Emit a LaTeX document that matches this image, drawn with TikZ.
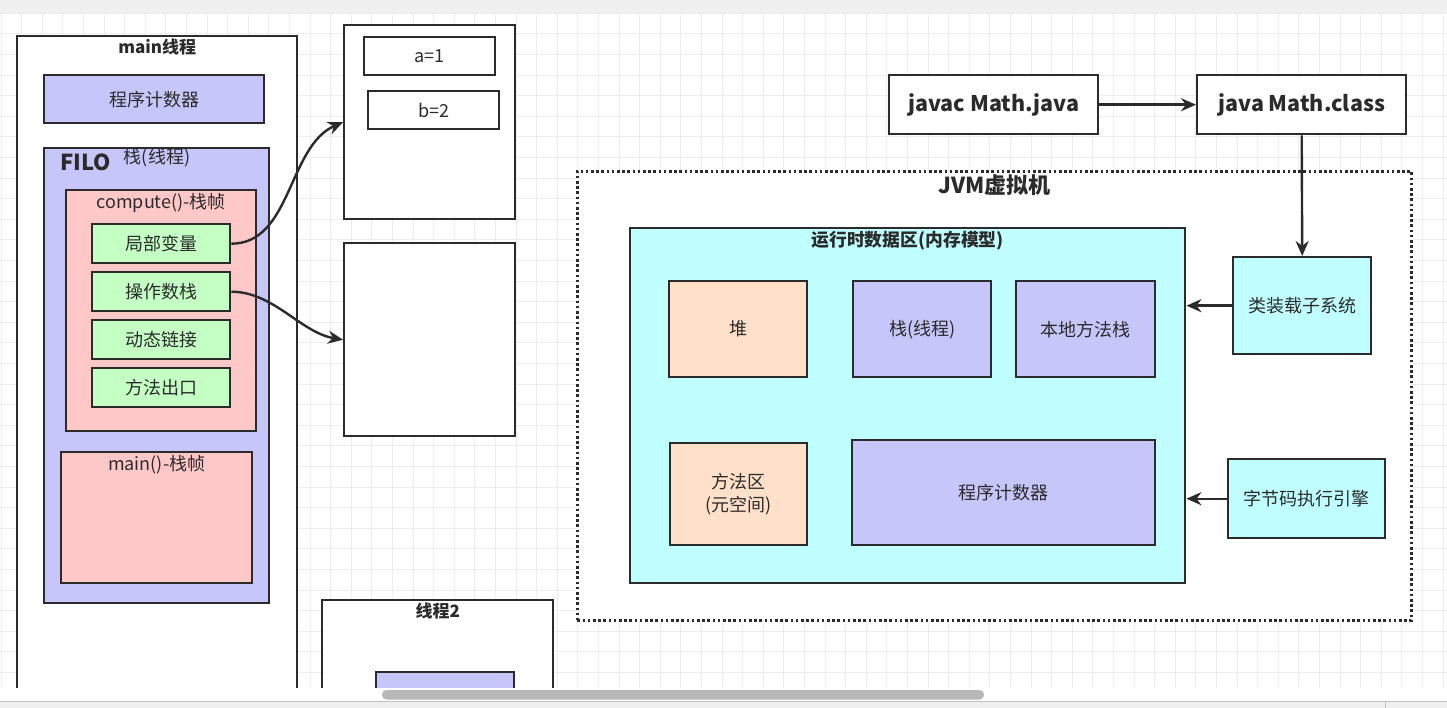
\documentclass[tikz,border=0pt]{standalone}
\usepackage{fontspec}
\setmainfont{Noto Sans CJK SC}
\usetikzlibrary{arrows.meta,positioning}
\definecolor{ink}{HTML}{2B2B2B}
\definecolor{lavender}{HTML}{C6C6FA}
\definecolor{blush}{HTML}{FFC8C8}
\definecolor{mint}{HTML}{C4FFC4}
\definecolor{aqua}{HTML}{C0FFFF}
\definecolor{peach}{HTML}{FFE0C8}
\definecolor{gridline}{HTML}{EDEDED}
\definecolor{chrome}{HTML}{F0F0F0}

\begin{document}
\begin{tikzpicture}[x=1pt,y=-1pt,
 box/.style={draw=ink,line width=2.4pt,fill=white,anchor=north west,inner sep=0pt,
   text=ink,align=center,font=\fontsize{18}{23}\selectfont},
 thread/.style={box,fill=lavender},
 frame/.style={box,fill=blush},
 slot/.style={box,fill=mint,minimum width=138pt,minimum height=39pt},
 shared/.style={box,fill=peach},
 unit/.style={box,fill=aqua},
 title/.style={inner sep=0pt,text=ink,font=\bfseries\fontsize{17}{20}\selectfont},
 caption/.style={inner sep=0pt,text=ink,font=\fontsize{18}{20}\selectfont},
 flow/.style={-{Stealth[length=15pt,width=13pt]},draw=ink,line width=2.4pt}
]
\useasboundingbox (0,0) rectangle (1447,708);
\fill[white] (0,0) rectangle (1447,708);
% canvas grid
\foreach \i in {0,...,70}
 \draw[gridline,line width=0.9pt] (1.1+20.6*\i,13) -- (1.1+20.6*\i,688);
\foreach \i in {0,...,32}
 \draw[gridline,line width=0.9pt] (0,13.3+20.6*\i) -- (1447,13.3+20.6*\i);
\fill[chrome] (0,0) rectangle (1447,13);

% main thread
\node[box,minimum width=280pt,minimum height=660pt] (mainthread) at (16,35) {};
\node[title,below=4pt of mainthread.north] (mainlabel) {main线程};
\node[thread,minimum width=220pt,minimum height=48pt] (pcmain) at (43,74) {程序计数器};
\node[thread,minimum width=225pt,minimum height=455pt] (stack) at (43,147) {};
\node[title,font=\bfseries\fontsize{22}{24}\selectfont,anchor=west] (filo) at (60,162) {FILO};
\node[caption] (stacklabel) at (157,158) {栈(线程)};
\node[frame,minimum width=190pt,minimum height=241pt] (compute) at (65,189) {};
\node[caption,below=4pt of compute.north] (computelabel) {compute()-栈帧};
\node[slot] (locals) at (91,223) {局部变量};
\node[slot] (operands) at (91,271) {操作数栈};
\node[slot] (dynlink) at (91,319) {动态链接};
\node[slot] (methodexit) at (91,367) {方法出口};
\node[frame,minimum width=191pt,minimum height=131pt] (mainframe) at (60,451) {};
\node[caption,below=4pt of mainframe.north] (mainframelabel) {main()-栈帧};

% heap objects
\node[box,minimum width=171pt,minimum height=194pt] (obja) at (343,24) {};
\node[box,minimum width=131pt,minimum height=38pt] (vara) at (363,36) {a=1};
\node[box,minimum width=131pt,minimum height=38pt] (varb) at (367,90) {b=2};
\node[box,minimum width=171pt,minimum height=193pt] (objb) at (343,242) {};
\draw[flow] (locals.east) .. controls +(60,0) and +(-55,24) .. (obja.west);
\draw[flow] (operands.east) .. controls +(42,0) and +(-42,-7) .. (objb.west);

% second thread
\node[box,minimum width=231pt,minimum height=100pt] (thread2) at (321,599) {};
\node[title,below=4pt of thread2.north] (thread2label) {线程2};
\node[thread,minimum width=138pt,minimum height=30pt] (stack2) at (375,671) {};

% jvm
\node[box,font=\bfseries\fontsize{21.5}{24}\selectfont,minimum width=209pt,minimum height=59pt] (javac) at (888,74) {javac Math.java};
\node[box,font=\bfseries\fontsize{21.5}{24}\selectfont,minimum width=209pt,minimum height=59pt] (javarun) at (1196,74) {java Math.class};
\draw[flow] (javac.east) -- (javarun.west);
\node[box,dash pattern=on 2.6pt off 2.6pt,line width=2.6pt,minimum width=834pt,minimum height=449pt] (jvm) at (576,170) {};
\node[title,font=\bfseries\fontsize{22}{24}\selectfont,below=4pt of jvm.north] (jvmlabel) {JVM虚拟机};
\node[unit,minimum width=555pt,minimum height=355pt] (runtime) at (629,227) {};
\node[title,font=\bfseries\fontsize{17.8}{20}\selectfont,below=4pt of runtime.north] (runtimelabel) {运行时数据区(内存模型)};
\node[shared,minimum width=138pt,minimum height=96pt] (heap) at (668,280) {堆};
\node[thread,minimum width=138pt,minimum height=96pt] (vmstack) at (852,280) {栈(线程)};
\node[thread,minimum width=139pt,minimum height=96pt] (native) at (1015,280) {本地方法栈};
\node[shared,minimum width=137pt,minimum height=102pt] (metaspace) at (669,442) {方法区\\(元空间)};
\node[thread,minimum width=303pt,minimum height=105pt] (pc) at (851,439) {程序计数器};
\node[unit,minimum width=138pt,minimum height=97pt] (loader) at (1232,256) {类装载子系统};
\node[unit,minimum width=157pt,minimum height=79pt] (engine) at (1227,458) {字节码执行引擎};
\draw[flow] (javarun.south) -- (loader.north);
\draw[flow] (loader.west) -- (runtime.east |- loader.west);
\draw[flow] (engine.west) -- (runtime.east |- engine.west);

% scroll bar
\fill[white] (0,688) rectangle (1447,701);
\fill[black!28,rounded corners=4.5pt] (382,690) rectangle (984,699.5);
\fill[chrome] (0,701.5) rectangle (1447,708);
\draw[black!25,line width=1pt] (0,701.5) -- (1447,701.5);
\draw[black!25,line width=1pt] (1385,701.5) -- (1385,708);
\end{tikzpicture}
\end{document}
